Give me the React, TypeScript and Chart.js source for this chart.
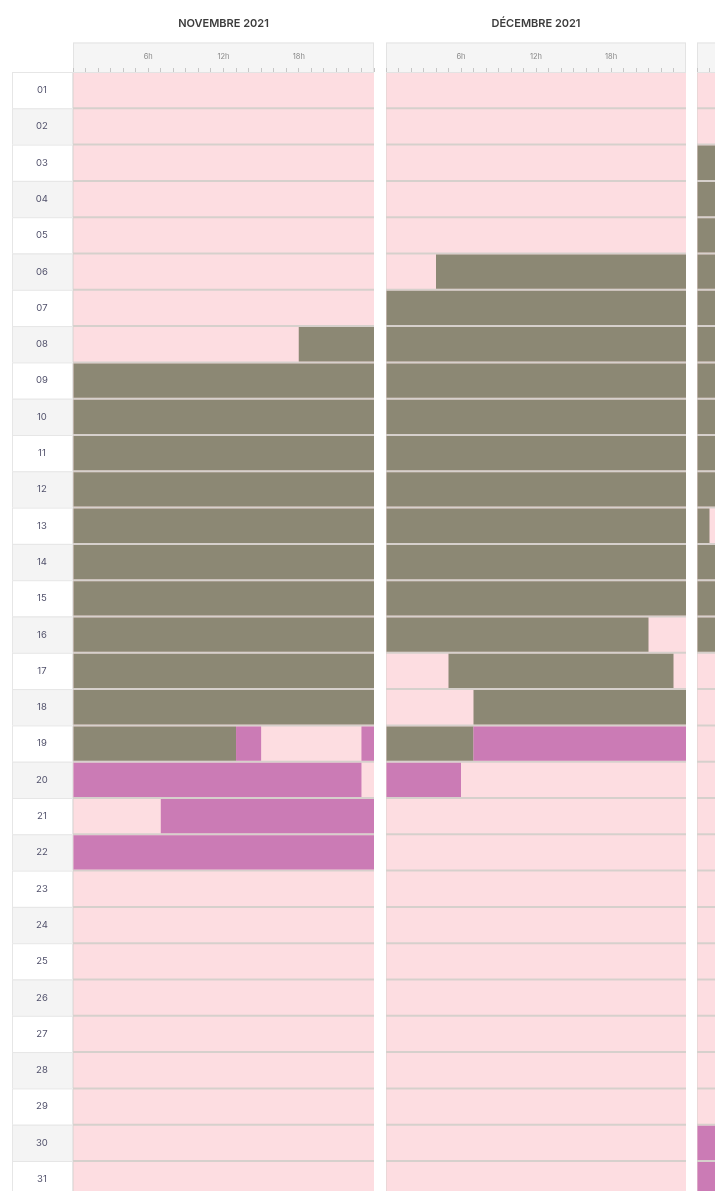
import React, { useEffect, useRef } from 'react';
import { Chart, registerables } from 'chart.js';

Chart.register(...registerables);

// ---------- data ----------
const DAYS = [
  '01', '02', '03', '04', '05', '06', '07', '08', '09', '10',
  '11', '12', '13', '14', '15', '16', '17', '18', '19', '20',
  '21', '22', '23', '24', '25', '26', '27', '28', '29', '30', '31',
];
const MONTH_TITLES = ['NOVEMBRE 2021', 'DÉCEMBRE 2021', 'JANVIER 2022'];
const HOURS = [0, 1, 2, 3, 4, 5, 6, 7, 8, 9, 10, 11, 12, 13, 14, 15, 16, 17, 18, 19, 20, 21, 22, 23, 24];
const HOUR_TICK_VALUES = [6, 12, 18];
const HOUR_TICK_LABELS = ['6h', '12h', '18h'];

// segments: [day, start hour, end hour]
const NOV_GRAY: [string, number, number][] = [
  ['08', 18, 24], ['09', 0, 24], ['10', 0, 24], ['11', 0, 24], ['12', 0, 24],
  ['13', 0, 24], ['14', 0, 24], ['15', 0, 24], ['16', 0, 24], ['17', 0, 24],
  ['18', 0, 24], ['19', 0, 13],
];
const NOV_MAGENTA: [string, number, number][] = [
  ['19', 13, 15], ['19', 23, 24], ['20', 0, 23], ['21', 7, 24], ['22', 0, 24],
];
const DEC_GRAY: [string, number, number][] = [
  ['06', 4, 24], ['07', 0, 24], ['08', 0, 24], ['09', 0, 24], ['10', 0, 24],
  ['11', 0, 24], ['12', 0, 24], ['13', 0, 24], ['14', 0, 24], ['15', 0, 24],
  ['16', 0, 21], ['17', 5, 23], ['18', 7, 24], ['19', 0, 7],
];
const DEC_MAGENTA: [string, number, number][] = [
  ['19', 7, 24], ['20', 0, 6],
];
const JAN_GRAY: [string, number, number][] = [
  ['03', 0, 24], ['04', 0, 24], ['05', 0, 24], ['06', 0, 24], ['07', 0, 24],
  ['08', 0, 24], ['09', 0, 24], ['10', 0, 24], ['11', 0, 24], ['12', 0, 24],
  ['13', 0, 1], ['13', 3, 24], ['14', 0, 24], ['15', 0, 24], ['16', 0, 24],
];
const JAN_MAGENTA: [string, number, number][] = [
  ['30', 0, 24], ['31', 0, 24],
];

const MONTH_GRAY = [NOV_GRAY, DEC_GRAY, JAN_GRAY];
const MONTH_MAGENTA = [NOV_MAGENTA, DEC_MAGENTA, JAN_MAGENTA];

// ---------- styles ----------
const PINK = '#fddde1';
const GRAY = '#8c8874';
const MAGENTA = '#cb7bb5';
const GAP = '#d6d0cc';
const FONT = 'Inter, "Noto Sans", sans-serif';

const zeroPad = (s: any) => {
  s.paddingLeft = 0;
  s.paddingRight = 0;
  s.paddingTop = 0;
  s.paddingBottom = 0;
};

const backgroundPlugin = {
  id: 'panelBackground',
  beforeDraw(chart: any) {
    const { ctx, chartArea } = chart;
    const xs = chart.scales.x;
    const ys = chart.scales.y;
    ctx.save();
    // row gap colour
    ctx.fillStyle = GAP;
    ctx.fillRect(chartArea.left, chartArea.top, chartArea.right - chartArea.left, chartArea.bottom - chartArea.top);
    // header band
    ctx.fillStyle = '#f5f5f5';
    ctx.fillRect(xs.left, xs.top, xs.right - xs.left, xs.bottom - xs.top);
    ctx.strokeStyle = '#e3e3e3';
    ctx.lineWidth = 1;
    ctx.strokeRect(xs.left + 0.5, xs.top + 0.5, xs.right - xs.left - 1, xs.bottom - xs.top);
    // day label boxes
    if (ys.options.display) {
      const rowH = (chartArea.bottom - chartArea.top) / DAYS.length;
      DAYS.forEach((_, i) => {
        const y = ys.getPixelForValue(i) - rowH / 2;
        ctx.fillStyle = i % 2 === 1 ? '#f4f4f4' : '#ffffff';
        ctx.fillRect(ys.left, y, chartArea.left - ys.left, rowH);
        ctx.strokeStyle = '#e6e6e6';
        ctx.strokeRect(ys.left + 0.5, y + 0.5, chartArea.left - ys.left - 1, rowH);
      });
    }
    ctx.restore();
  },
};

function MonthChart({ index, left, width, withLabels }: { index: number; left: number; width: number; withLabels: boolean }) {
  const ref = useRef<HTMLCanvasElement | null>(null);
  useEffect(() => {
    const canvas = ref.current;
    if (!canvas) return;
    const toBars = (segs: [string, number, number][]) => segs.map(([d, s, e]) => ({ y: d, x: [s, e] }));
    const chart = new Chart(canvas, {
      type: 'bar',
      data: {
        labels: DAYS,
        datasets: [
          { label: 'magenta', data: toBars(MONTH_MAGENTA[index]) as any, backgroundColor: MAGENTA },
          { label: 'gris', data: toBars(MONTH_GRAY[index]) as any, backgroundColor: GRAY },
          { label: 'libre', data: DAYS.map((d) => ({ y: d, x: [0, 24] })) as any, backgroundColor: PINK },
        ],
      },
      options: {
        indexAxis: 'y',
        responsive: false,
        animation: false,
        events: [],
        layout: { padding: { left: withLabels ? 12 : 0, right: withLabels ? 1 : 0, top: 0, bottom: 2.7 } },
        datasets: {
          bar: { grouped: false, barPercentage: 0.945, categoryPercentage: 1, borderWidth: 0, borderSkipped: false },
        } as any,
        plugins: {
          legend: { display: false },
          tooltip: { enabled: false },
          title: {
            display: true,
            text: MONTH_TITLES[index],
            fullSize: false,
            color: '#3c3c3c',
            font: { family: FONT, size: 11, weight: '600' as any, lineHeight: 1.2 },
            padding: { top: 16.7, bottom: 12.6 },
          },
        },
        scales: {
          x: {
            type: 'linear',
            position: 'top',
            min: 0,
            max: 24,
            afterBuildTicks: (s: any) => {
              s.ticks = HOURS.map((v) => ({ value: v }));
            },
            ticks: {
              autoSkip: false,
              maxRotation: 0,
              padding: 6.5,
              color: '#888888',
              font: { family: FONT, size: 7.5 },
              callback: (v: any) => {
                const k = HOUR_TICK_VALUES.indexOf(Number(v));
                return k >= 0 ? HOUR_TICK_LABELS[k] : '';
              },
            },
            grid: { drawOnChartArea: false, drawTicks: true, tickLength: 4, color: '#c6c6c6' },
            border: { display: false },
            afterFit: (s: any) => {
              s.height = 29.5;
              zeroPad(s);
            },
          },
          y: {
            type: 'category',
            display: withLabels,
            offset: true,
            grid: { display: false, drawTicks: false },
            border: { display: false },
            ticks: {
              crossAlign: 'center',
              padding: 25,
              color: '#50506a',
              font: { family: FONT, size: 9.5 },
            },
            afterFit: (s: any) => {
              s.width = withLabels ? 61 : 0;
              zeroPad(s);
            },
          },
        },
      },
      plugins: [backgroundPlugin],
    });
    return () => chart.destroy();
  }, [index, withLabels]);
  return (
    <canvas
      ref={ref}
      width={width}
      height={1200}
      style={{ position: 'absolute', left, top: 0, width, height: 1200 }}
    />
  );
}

export default function App() {
  return (
    <div
      style={{
        position: 'fixed',
        left: 0,
        top: 0,
        width: 715,
        height: 1191,
        overflow: 'hidden',
        background: '#ffffff',
      }}
    >
      <MonthChart index={0} left={0} width={375} withLabels={true} />
      <MonthChart index={1} left={386} width={300} withLabels={false} />
      <MonthChart index={2} left={697} width={300} withLabels={false} />
    </div>
  );
}
